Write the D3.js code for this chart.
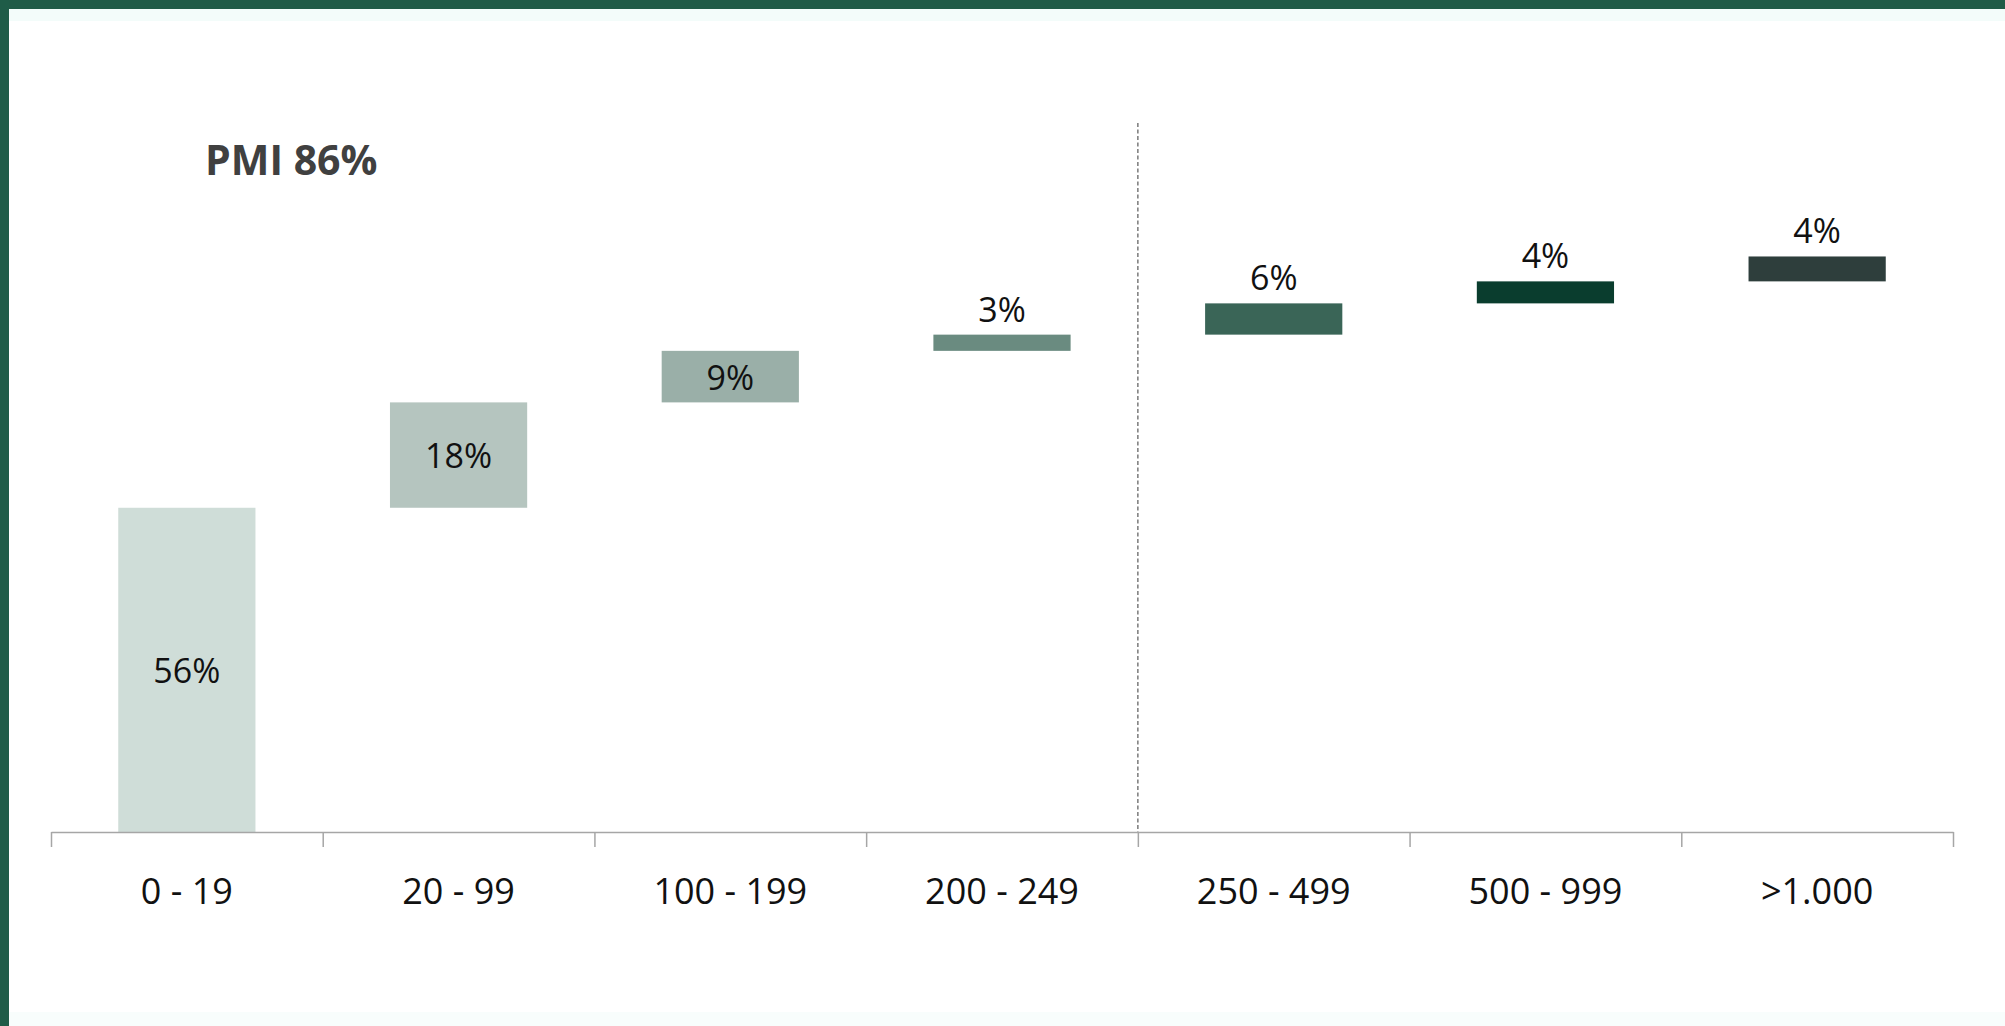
<!DOCTYPE html>
<html>
<head>
<meta charset="utf-8">
<script src="https://cdn.jsdelivr.net/npm/d3@7"></script>
<style>
  body { margin: 0; background: #fff; overflow: hidden; }
  text { font-family: "Open Sans", "Noto Sans", sans-serif; }
</style>
</head>
<body>
<div id="wrapper"></div>
<script>
/* global d3 */

// data
const categories = ["0 - 19", "20 - 99", "100 - 199", "200 - 249", "250 - 499", "500 - 999", ">1.000"]
const shares = [56, 18.2, 8.9, 2.8, 5.4, 3.8, 4.3]
const shareLabels = ["56%", "18%", "9%", "3%", "6%", "4%", "4%"]
const barColors = ["#cfddd8", "#b5c5bf", "#9aafa8", "#6a8b80", "#3a6557", "#0a3d2e", "#2e3e3c"]
const title = "PMI 86%"
const splitAfter = 4 // dashed divider sits before the 5th category

function drawWaterfall() {
  const dimensions = {
    width: 2005,
    height: 1026,
    margin: { top: 253, right: 52, bottom: 194, left: 51 },
  }
  dimensions.boundedWidth = dimensions.width - dimensions.margin.left - dimensions.margin.right
  dimensions.boundedHeight = dimensions.height - dimensions.margin.top - dimensions.margin.bottom

  const wrapper = d3.select("#wrapper")
    .append("svg")
      .attr("width", dimensions.width)
      .attr("height", dimensions.height)

  // slide frame
  wrapper.append("rect")
      .attr("x", 0).attr("y", 9)
      .attr("width", dimensions.width).attr("height", 12)
      .attr("fill", "#f3fcfa")
  wrapper.append("rect")
      .attr("x", 0).attr("y", dimensions.height - 14)
      .attr("width", dimensions.width).attr("height", 14)
      .attr("fill", "#f8fdfc")
  wrapper.append("rect")
      .attr("x", 0).attr("y", 0)
      .attr("width", dimensions.width).attr("height", 9)
      .attr("fill", "#205b47")
  wrapper.append("rect")
      .attr("x", 0).attr("y", 0)
      .attr("width", 9).attr("height", dimensions.height)
      .attr("fill", "#1f5c48")

  const bounds = wrapper.append("g")
      .attr("transform", `translate(${dimensions.margin.left}, ${dimensions.margin.top})`)

  // scales
  const xScale = d3.scaleBand()
    .domain(categories)
    .range([0, dimensions.boundedWidth])
    .paddingInner(0.495)
    .paddingOuter(0.2475)

  const tickScale = d3.scaleLinear()
    .domain([0, categories.length])
    .range([0, dimensions.boundedWidth])

  const yScale = d3.scaleLinear()
    .domain([0, 100])
    .range([dimensions.boundedHeight, 0])

  // running totals for the waterfall
  const ends = d3.cumsum(shares)
  const bars = categories.map((c, i) => ({
    category: c,
    start: i === 0 ? 0 : ends[i - 1],
    end: ends[i],
    label: shareLabels[i],
    color: barColors[i],
    inside: i < 3,
  }))

  // dashed divider
  bounds.append("line")
      .attr("x1", tickScale(splitAfter))
      .attr("x2", tickScale(splitAfter))
      .attr("y1", 123 - dimensions.margin.top)
      .attr("y2", dimensions.boundedHeight)
      .attr("stroke", "#7a7a7a")
      .attr("stroke-width", 1.5)
      .attr("stroke-dasharray", "4 2.5")

  bounds.selectAll("rect.bar")
    .data(bars)
    .join("rect")
      .attr("class", "bar")
      .attr("x", d => xScale(d.category))
      .attr("width", xScale.bandwidth())
      .attr("y", d => yScale(d.end))
      .attr("height", d => yScale(d.start) - yScale(d.end))
      .attr("fill", d => d.color)

  bounds.selectAll("text.value")
    .data(bars)
    .join("text")
      .attr("class", "value")
      .attr("x", d => xScale(d.category) + xScale.bandwidth() / 2)
      .attr("y", d => d.inside
        ? (yScale(d.start) + yScale(d.end)) / 2
        : yScale(d.end) - 13)
      .attr("dy", d => d.inside ? "0.38em" : 0)
      .attr("text-anchor", "middle")
      .attr("font-size", 34)
      .attr("fill", "#111")
      .text(d => d.label)

  // axis: line with ticks on the band edges
  const xAxis = d3.axisBottom(tickScale)
    .ticks(categories.length)
    .tickSize(15)
    .tickSizeOuter(0)
    .tickFormat("")

  const xAxisGroup = bounds.append("g")
      .attr("transform", `translate(0, ${dimensions.boundedHeight})`)
      .call(xAxis)
  xAxisGroup.selectAll("path, line")
      .attr("stroke", "#a6a6a6")
      .attr("stroke-width", 1.5)

  bounds.selectAll("text.category")
    .data(categories)
    .join("text")
      .attr("class", "category")
      .attr("x", d => xScale(d) + xScale.bandwidth() / 2)
      .attr("y", dimensions.boundedHeight + 72)
      .attr("text-anchor", "middle")
      .attr("font-size", 36)
      .attr("fill", "#111")
      .text(d => d)

  wrapper.append("text")
      .attr("x", 205)
      .attr("y", 175)
      .attr("font-size", 41)
      .attr("font-weight", 700)
      .attr("fill", "#404040")
      .text(title)
}

drawWaterfall()
</script>
</body>
</html>
